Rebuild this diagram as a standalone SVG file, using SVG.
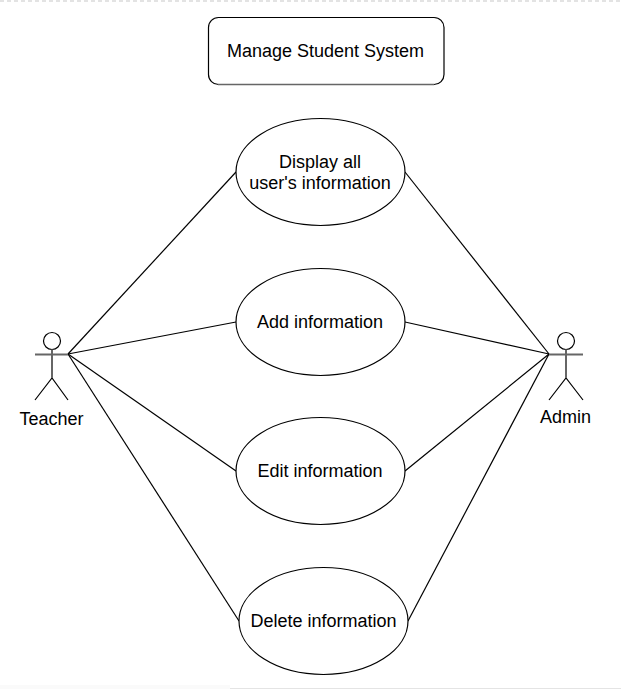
<svg xmlns="http://www.w3.org/2000/svg" width="621" height="689" viewBox="0 0 621 689">
<style>
.s{fill:none;stroke:#000;stroke-width:1.2}
.n{fill:#fff;stroke:#000;stroke-width:1.2}
.g{fill:none;stroke:#666;stroke-width:2}
text{font-family:"Liberation Sans",Arial,sans-serif;font-size:18px;fill:#000;text-anchor:middle}
</style>
<rect width="621" height="689" fill="#fff"/>
<line x1="0" y1="1" x2="621" y2="1" stroke="#c8c8c8" stroke-width="1.2" stroke-dasharray="4 3"/>
<rect x="0" y="685" width="230" height="4" fill="#fafafa"/>
<rect x="230" y="688" width="391" height="1" fill="#e4e4e4"/>
<g id="connectors" class="s">
<line x1="68" y1="354" x2="236" y2="172"/>
<line x1="68" y1="354" x2="236" y2="322"/>
<line x1="68" y1="354" x2="236" y2="471"/>
<line x1="68" y1="354" x2="239" y2="621"/>
<line x1="405" y1="172" x2="549" y2="354"/>
<line x1="405" y1="322" x2="549" y2="354"/>
<line x1="405" y1="471" x2="549" y2="354"/>
<line x1="408" y1="621" x2="549" y2="354"/>
</g>
<g id="title"><rect class="n" x="208.500" y="17.500" width="235.500" height="67" rx="10" ry="10"/><path d="M218 84.500H434" stroke="#666" stroke-width="1.500" fill="none"/><text x="325.500" y="57">Manage Student System</text></g>
<g id="uc1"><ellipse class="n" cx="320.500" cy="172" rx="84.500" ry="53.500"/><text x="320" y="168">Display all</text><text x="320" y="188.500">user's information</text></g>
<g id="uc2"><ellipse class="n" cx="320.500" cy="322" rx="84.500" ry="53.500"/><text x="320" y="327.500">Add information</text></g>
<g id="uc3"><ellipse class="n" cx="320.500" cy="471" rx="84.500" ry="53.500"/><text x="320" y="476.500">Edit information</text></g>
<g id="uc4"><ellipse class="n" cx="323.500" cy="621" rx="84.500" ry="53.500"/><text x="323.500" y="626.500">Delete information</text></g>
<g id="teacher"><g class="s"><circle cx="52" cy="341" r="8.500"/><path d="M35 400L52 378L68 400"/></g><path class="g" d="M52 349.500V378M35 354.500H68"/><text x="51.500" y="424.500">Teacher</text></g>
<g id="admin"><g class="s"><circle cx="566" cy="341" r="8.500"/><path d="M549 400L566 378L583 400"/></g><path class="g" d="M566 349.500V378M549 354.500H583"/><text x="565.500" y="422.500">Admin</text></g>
</svg>
